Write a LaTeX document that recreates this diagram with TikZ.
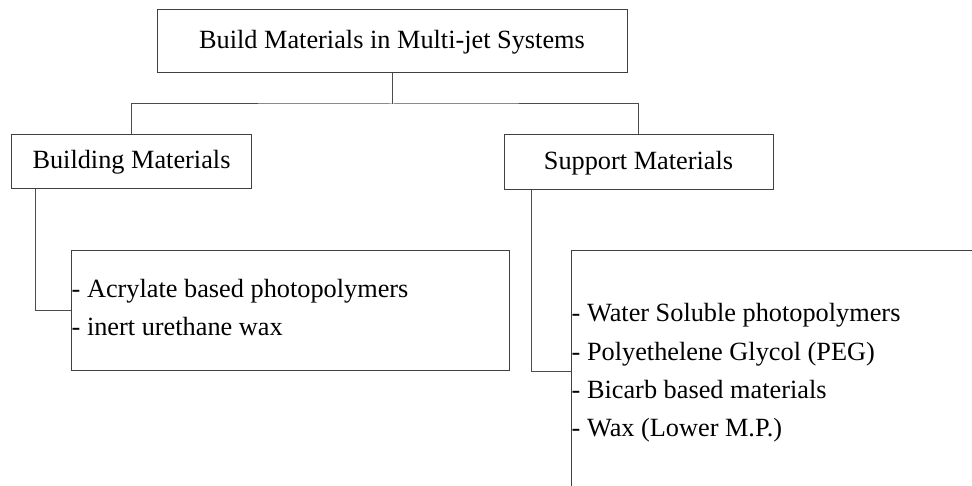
\documentclass[tikz,border=0pt]{standalone}
\usepackage{fontspec}
\setmainfont{Liberation Serif}
\begin{document}
\begin{tikzpicture}[x=1pt,y=-1pt,
  box/.style={draw=black!75,line width=1pt,inner sep=0pt,rectangle},
  conn/.style={draw=black!70,line width=1pt},
  lbl/.style={inner sep=0pt,font=\fontsize{26.3}{38}\selectfont},
  item/.style={inner sep=0pt,anchor=base west,font=\fontsize{26.3}{38}\selectfont}]
\clip (0,0) rectangle (972,486);
\useasboundingbox (0,0) rectangle (972,486);
\fill[white] (0,0) rectangle (972,486);
% boxes
\node[box,minimum width=470pt,minimum height=63pt] (top) at (392,41.5) {};
\node[lbl] (toptxt) at (392,42) {Build Materials in Multi-jet Systems};
\node[box,minimum width=240pt,minimum height=54pt] (bm) at (131,162) {};
\node[lbl] (bmtxt) at (131.5,162.5) {Building Materials};
\node[box,minimum width=269pt,minimum height=55pt] (sm) at (638.5,162.5) {};
\node[lbl] (smtxt) at (638.5,163) {Support Materials};
\node[box,minimum width=438pt,minimum height=119pt] (lb) at (290,310.5) {};
\node[box,minimum width=529pt,minimum height=349pt] (rb) at (835.5,425.5) {};
% items
\node[item] (l1) at (71.5,298) {- Acrylate based photopolymers};
\node[item] (l2) at (71.5,336) {- inert urethane wax};
\node[item] (r1) at (571.5,322) {- Water Soluble photopolymers};
\node[item] (r2) at (571.5,360) {- Polyethelene Glycol (PEG)};
\node[item] (r3) at (571.5,398) {- Bicarb based materials};
\node[item] (r4) at (571.5,436.5) {- Wax (Lower M.P.)};
% connectors
\coordinate (j) at (392,104);
\coordinate (rk) at (0,371);
\draw[conn] (top.south) -- (j);
\draw[conn] (bm.north) |- (j) -| (sm.north);
\draw[conn] ([xshift=-96pt]bm.south) |- (lb.west);
\draw[conn] ([xshift=-107.5pt]sm.south) |- (rb.north west |- rk);
\end{tikzpicture}
\end{document}
